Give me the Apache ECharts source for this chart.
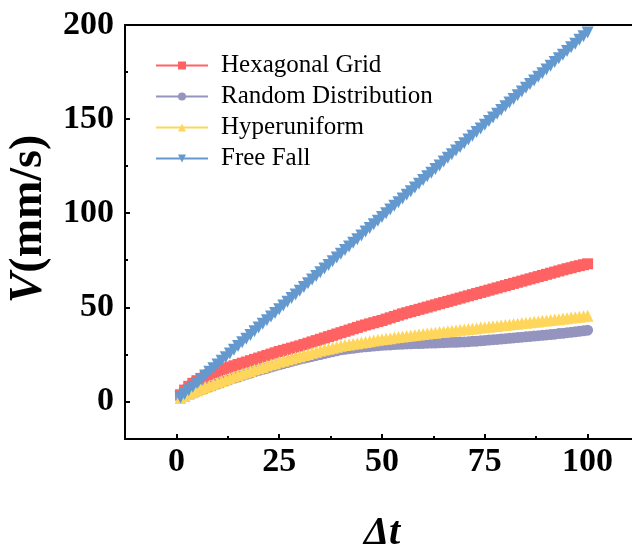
<!DOCTYPE html>
<html><head><meta charset="utf-8">
<script src="https://cdn.jsdelivr.net/npm/echarts@6/dist/echarts.min.js"></script>
<style>html,body{margin:0;padding:0;background:#fff}#c{width:632px;height:547px}</style>
</head><body><div id="c"></div><script>
const deltaT = [1,2,3,4,5,6,7,8,9,10,11,12,13,14,15,16,17,18,19,20,21,22,23,24,25,26,27,28,29,30,31,32,33,34,35,36,37,38,39,40,41,42,43,44,45,46,47,48,49,50,51,52,53,54,55,56,57,58,59,60,61,62,63,64,65,66,67,68,69,70,71,72,73,74,75,76,77,78,79,80,81,82,83,84,85,86,87,88,89,90,91,92,93,94,95,96,97,98,99,100];
const hexagonalGrid = [3.5,6.0,8.0,9.6,11.0,12.2,13.3,14.3,15.2,16.0,16.8,17.5,18.2,18.9,19.6,20.3,20.9,21.6,22.3,23.0,23.7,24.4,25.1,25.8,26.5,27.1,27.7,28.3,28.9,29.5,30.2,30.9,31.6,32.3,33.0,33.7,34.4,35.1,35.8,36.5,37.2,37.9,38.6,39.3,40.0,40.6,41.2,41.8,42.4,43.0,43.7,44.4,45.1,45.8,46.5,47.1,47.7,48.3,48.9,49.5,50.1,50.7,51.3,51.9,52.5,53.1,53.7,54.3,54.9,55.5,56.1,56.7,57.3,57.9,58.5,59.1,59.7,60.3,60.9,61.5,62.1,62.7,63.3,63.9,64.5,65.1,65.7,66.3,66.9,67.5,68.1,68.7,69.3,69.9,70.5,71.0,71.6,72.1,72.6,73.1];
const randomDistribution = [1.5,2.5,3.4,4.3,5.2,6.0,6.8,7.6,8.4,9.2,10.0,10.8,11.5,12.2,12.9,13.6,14.3,15.0,15.7,16.4,17.0,17.6,18.2,18.8,19.4,20.0,20.6,21.2,21.8,22.4,22.9,23.4,23.9,24.4,24.9,25.4,25.9,26.4,26.9,27.4,27.7,28.0,28.2,28.5,28.8,29.0,29.2,29.4,29.6,29.8,29.9,30.0,30.2,30.3,30.4,30.5,30.6,30.7,30.7,30.8,30.9,31.0,31.0,31.1,31.2,31.3,31.4,31.4,31.5,31.6,31.7,31.9,32.0,32.2,32.4,32.6,32.8,32.9,33.1,33.3,33.5,33.7,33.9,34.1,34.3,34.5,34.7,34.9,35.1,35.3,35.5,35.7,36.0,36.2,36.5,36.7,37.0,37.2,37.5,37.8];
const hyperuniform = [1.8,2.9,3.9,4.9,5.8,6.7,7.6,8.4,9.2,10.0,10.8,11.6,12.4,13.2,14.0,14.7,15.4,16.1,16.9,17.6,18.3,19.0,19.7,20.3,21.0,21.6,22.2,22.8,23.4,24.0,24.6,25.2,25.8,26.4,27.0,27.5,28.0,28.5,29.0,29.5,29.9,30.2,30.6,30.9,31.3,31.6,32.0,32.3,32.7,33.0,33.3,33.6,33.9,34.2,34.5,34.8,35.0,35.3,35.5,35.8,36.0,36.3,36.5,36.8,37.0,37.2,37.5,37.7,38.0,38.2,38.4,38.7,38.9,39.2,39.4,39.6,39.9,40.1,40.4,40.6,40.8,41.1,41.3,41.6,41.8,42.0,42.3,42.5,42.8,43.0,43.2,43.5,43.7,44.0,44.2,44.5,44.7,45.0,45.2,45.5];
const freeFall = [2.0,3.9,5.9,7.8,9.8,11.8,13.7,15.7,17.6,19.6,21.6,23.5,25.5,27.4,29.4,31.4,33.3,35.3,37.2,39.2,41.2,43.1,45.1,47.0,49.0,51.0,52.9,54.9,56.8,58.8,60.8,62.7,64.7,66.6,68.6,70.6,72.5,74.5,76.4,78.4,80.4,82.3,84.3,86.2,88.2,90.2,92.1,94.1,96.0,98.0,100.0,101.9,103.9,105.8,107.8,109.8,111.7,113.7,115.6,117.6,119.6,121.5,123.5,125.4,127.4,129.4,131.3,133.3,135.2,137.2,139.2,141.1,143.1,145.0,147.0,149.0,150.9,152.9,154.8,156.8,158.8,160.7,162.7,164.6,166.6,168.6,170.5,172.5,174.4,176.4,178.4,180.3,182.3,184.2,186.2,188.2,190.1,192.1,194.0,196.0];
const seriesNames = ['Hexagonal Grid','Random Distribution','Hyperuniform','Free Fall'];
const xTickValues = [0,25,50,75,100];
const xMinorTickValues = [12.5,37.5,62.5,87.5];
const yTickValues = [0,50,100,150,200];
const yMinorTickValues = [25,75,125,175];

const FONT = "'Times New Roman','Liberation Serif',serif";
const pairs = vals => vals.map((v,i)=>[deltaT[i], v]);
const colors = ['#FF6262','#9494BF','#FFD65C','#6499CF'];
const symbols = ['rect','circle','triangle','triangle'];
const rotates = [0,0,0,180];
const sizes = [11,11,12,12];
const allData = [hexagonalGrid, randomDistribution, hyperuniform, freeFall];

const chart = echarts.init(document.getElementById('c'), null, {renderer:'canvas'});
const axLine = {show:true, onZero:false, lineStyle:{color:'#000', width:2}};
chart.setOption({
  animation:false,
  backgroundColor:'#fff',
  grid:{left:125, right:-7, top:25, bottom:108, containLabel:false, outerBoundsMode:'none'},
  legend:{orient:'vertical', left:150, top:48, itemWidth:52, itemHeight:10, itemGap:6,
    textStyle:{fontFamily:FONT, fontSize:25, color:'#000', lineHeight:25, padding:[0,0,0,8]},
    data:seriesNames},
  xAxis:[
    {type:'value', min:-12.5, max:112.5, position:'bottom', axisLine:axLine,
     splitLine:{show:false},
     axisTick:{show:true, inside:true, length:5, lineStyle:{width:2,color:'#000'}, customValues:xTickValues},
     axisLabel:{customValues:xTickValues, fontFamily:FONT, fontSize:34, fontWeight:'bold', color:'#000', margin:6},
     name:'\u0394t', nameLocation:'middle', nameGap:75,
     nameTextStyle:{fontFamily:FONT, fontSize:40, fontWeight:'bold', fontStyle:'italic', color:'#000'}},
    {type:'value', min:-12.5, max:112.5, position:'bottom', axisLine:{show:false, onZero:false}, splitLine:{show:false},
     axisTick:{show:true, inside:true, length:3, lineStyle:{width:2,color:'#000'}, customValues:xMinorTickValues},
     axisLabel:{show:false}},
    {type:'value', min:-12.5, max:112.5, position:'top', axisLine:axLine, splitLine:{show:false},
     axisTick:{show:false}, axisLabel:{show:false}}
  ],
  yAxis:[
    {type:'value', min:-20, max:200, position:'left', axisLine:axLine, splitLine:{show:false},
     axisTick:{show:true, inside:true, length:5, lineStyle:{width:2,color:'#000'}, customValues:yTickValues},
     axisLabel:{customValues:yTickValues, fontFamily:FONT, fontSize:34, fontWeight:'bold', color:'#000', margin:11},
     name:'{v|V}(mm/s)', nameLocation:'middle', nameGap:64,
     nameTextStyle:{fontFamily:FONT, fontSize:46, fontWeight:'bold', color:'#000', padding:[0,0,0,26],
       rich:{v:{fontFamily:FONT, fontSize:46, fontWeight:'bold', fontStyle:'italic', color:'#000'}}}},
    {type:'value', min:-20, max:200, position:'left', axisLine:{show:false, onZero:false}, splitLine:{show:false},
     axisTick:{show:true, inside:true, length:3, lineStyle:{width:2,color:'#000'}, customValues:yMinorTickValues},
     axisLabel:{show:false}}
  ],
  series: seriesNames.map((n,i)=>({
    name:n, type:'line', xAxisIndex:0, yAxisIndex:0,
    data:pairs(allData[i]),
    symbol:symbols[i], symbolSize:sizes[i], symbolRotate:rotates[i],
    lineStyle:{color:colors[i], width:2},
    itemStyle:{color:colors[i]},
    z:2+i
  }))
});
</script></body></html>
